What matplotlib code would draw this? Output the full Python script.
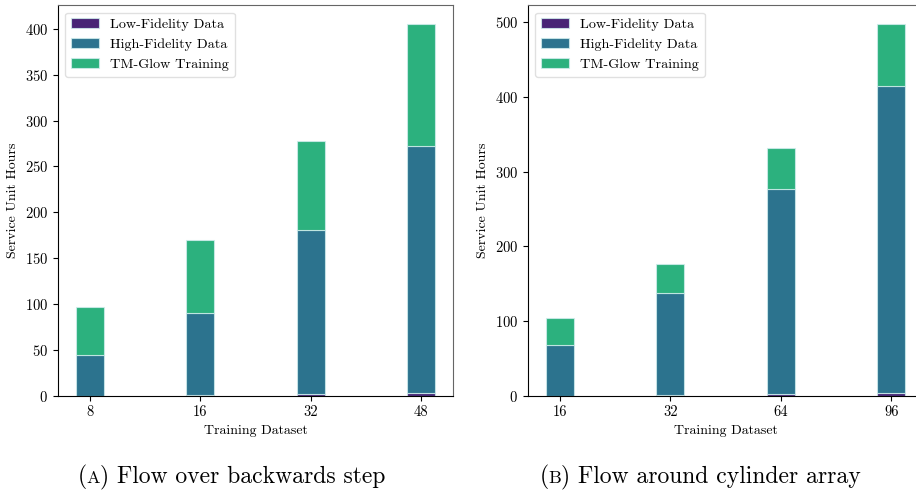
import numpy as np
import matplotlib
matplotlib.use("Agg")
import matplotlib.pyplot as plt

plt.rcParams['font.family'] = ['cmr10', 'DejaVu Serif']
plt.rcParams['axes.formatter.use_mathtext'] = True
plt.rcParams['mathtext.fontset'] = 'cm'

# data
step_labels = ["8", "16", "32", "48"]
step_low = [0.5, 1.1, 2.2, 3.3]
step_high = [44.2, 89.4, 179.1, 268.7]
step_glow = [52.0, 79.5, 96.2, 133.0]

cyl_labels = ["16", "32", "64", "96"]
cyl_low = [0.6, 1.3, 2.2, 3.6]
cyl_high = [67.6, 136.4, 274.1, 410.8]
cyl_glow = [35.7, 39.2, 55.3, 82.6]

series_names = ["Low-Fidelity Data", "High-Fidelity Data", "TM-Glow Training"]
cmap = plt.cm.viridis
colors = [cmap(0.1), cmap(0.38), cmap(0.64)]

fig = plt.figure(figsize=(9.16, 4.91), dpi=100)
ax1 = fig.add_axes([0.0633, 0.1935, 0.4312, 0.7953])
ax2 = fig.add_axes([0.5764, 0.1935, 0.4312, 0.7953])


def draw(ax, labels, low, high, glow):
    x = np.arange(len(labels))
    low = np.array(low)
    high = np.array(high)
    glow = np.array(glow)
    bottoms = [np.zeros(len(x)), low, low + high]
    for vals, b, c, name in zip([low, high, glow], bottoms, colors, series_names):
        ax.bar(x, vals, 0.25, bottom=b, color=c, label=name,
               edgecolor=(0.82, 0.93, 0.93, 0.8), linewidth=0.8)
    ax.set_xticks(x)
    ax.set_xticklabels(labels)
    ax.set_xlabel("Training Dataset", fontsize=10)
    ax.set_ylabel("Service Unit Hours", fontsize=10)
    ax.tick_params(labelsize=10.5)
    for s in ["top", "right"]:
        ax.spines[s].set_color("0.4")
    leg = ax.legend(loc="upper left", fontsize=10.2, framealpha=0.8)
    leg.get_frame().set_edgecolor("0.85")


draw(ax1, step_labels, step_low, step_high, step_glow)
draw(ax2, cyl_labels, cyl_low, cyl_high, cyl_glow)


# caption with a small-caps letter: "(", letter, ") text" laid out on one baseline
def caption(xc, yb, letter, text, size=17):
    r = fig.canvas.get_renderer()
    parts = [("(", size), (letter, size * 0.76), (") " + text, size)]
    objs = [fig.text(0, yb, s, fontsize=fs, ha="left", va="baseline") for s, fs in parts]
    widths = [o.get_window_extent(r).width for o in objs]
    x = xc * fig.bbox.width - sum(widths) / 2
    for o, w in zip(objs, widths):
        o.set_x(x / fig.bbox.width)
        x += w


caption(0.2527, 0.0165, "A", "Flow over backwards step")
caption(0.7645, 0.0165, "B", "Flow around cylinder array")

fig.savefig("out.png", dpi=100)
